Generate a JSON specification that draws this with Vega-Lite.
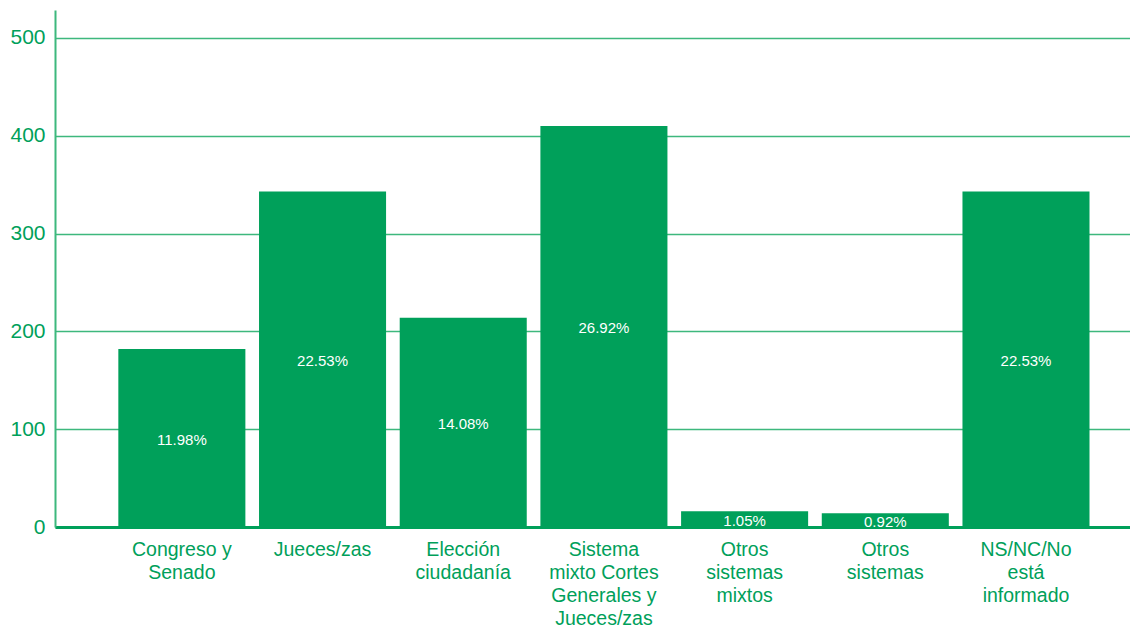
{
  "$schema": "https://vega.github.io/schema/vega-lite/v6.json",
  "width": 1075,
  "height": 517,
  "autosize": {"type": "none"},
  "padding": {"left": 55, "top": 10, "right": 0, "bottom": 98},
  "background": "white",
  "config": {"view": {"stroke": null}, "font": "Liberation Sans"},
  "data": {
    "values": [
      {"cat": "Congreso y Senado", "value": 182, "pct": "11.98%"},
      {"cat": "Jueces/zas", "value": 343, "pct": "22.53%"},
      {"cat": "Elección ciudadanía", "value": 214, "pct": "14.08%"},
      {"cat": "Sistema mixto Cortes Generales y Jueces/zas", "value": 410, "pct": "26.92%"},
      {"cat": "Otros sistemas mixtos", "value": 16, "pct": "1.05%"},
      {"cat": "Otros sistemas", "value": 14, "pct": "0.92%"},
      {"cat": "NS/NC/No está informado", "value": 343, "pct": "22.53%"}
    ]
  },
  "encoding": {
    "x": {
      "field": "cat",
      "type": "nominal",
      "sort": null,
      "scale": {"paddingInner": 0.097, "paddingOuter": 0.369, "align": 0.61},
      "axis": {
        "title": null,
        "labelAngle": 0,
        "labelFontSize": 19.5,
        "labelColor": "#00A05A",
        "labelPadding": 13,
        "labelLineHeight": 23,
        "labelLimit": 0,
        "ticks": false,
        "domainColor": "#00A05A",
        "domainWidth": 3,
        "labelExpr": "{'Congreso y Senado': ['Congreso y', 'Senado'], 'Jueces/zas': ['Jueces/zas'], 'Elección ciudadanía': ['Elección', 'ciudadanía'], 'Sistema mixto Cortes Generales y Jueces/zas': ['Sistema', 'mixto Cortes', 'Generales y', 'Jueces/zas'], 'Otros sistemas mixtos': ['Otros', 'sistemas', 'mixtos'], 'Otros sistemas': ['Otros', 'sistemas'], 'NS/NC/No está informado': ['NS/NC/No', 'está', 'informado']}[datum.label]"
      }
    }
  },
  "layer": [
    {
      "mark": {"type": "bar", "color": "#00A05A"},
      "encoding": {
        "y": {
          "field": "value",
          "type": "quantitative",
          "scale": {"domain": [0, 528.6], "nice": false},
          "axis": {
            "title": null,
            "values": [0, 100, 200, 300, 400, 500],
            "grid": true,
            "gridColor": "#3DB87D",
            "gridWidth": 1.5,
            "domainColor": "#3DB87D",
            "domainWidth": 2,
            "ticks": false,
            "labelColor": "#00A05A",
            "labelFontSize": 21,
            "labelPadding": 10
          }
        }
      }
    },
    {
      "transform": [{"calculate": "datum.value / 2", "as": "mid"}],
      "mark": {"type": "text", "color": "white", "fontSize": 15, "baseline": "middle", "dy": 2},
      "encoding": {
        "y": {"field": "mid", "type": "quantitative"},
        "text": {"field": "pct"}
      }
    }
  ]
}
